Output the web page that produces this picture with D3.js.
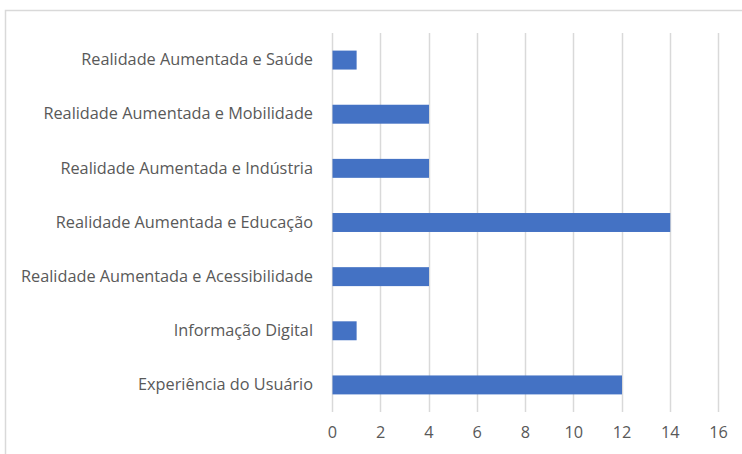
<!DOCTYPE html>
<html><head><meta charset="utf-8">
<script src="https://cdn.jsdelivr.net/npm/d3@7"></script>
<style>body{margin:0;background:#fff}svg{display:block}</style>
</head><body>
<svg id="c" width="742" height="454"></svg>
<script>
const categories = [
  "Realidade Aumentada e Saúde",
  "Realidade Aumentada e Mobilidade",
  "Realidade Aumentada e Indústria",
  "Realidade Aumentada e Educação",
  "Realidade Aumentada e Acessibilidade",
  "Informação Digital",
  "Experiência do Usuário"
];
const values = [1, 4, 4, 14, 4, 1, 12];
const xTicks = [0, 2, 4, 6, 8, 10, 12, 14, 16];

const svg = d3.select("#c");
const font = "'Open Sans', sans-serif";
const txt = "#595959";

svg.append("rect").attr("x", 5.5).attr("y", 10.5).attr("width", 800).attr("height", 500)
  .attr("fill", "#fff").attr("stroke", "#d9d9d9").attr("stroke-width", 1.5);

const x = d3.scaleLinear().domain([0, 16]).range([332, 718]);
const y = d3.scaleBand().domain(categories).range([33, 412]).paddingInner(0.65).paddingOuter(0.325);

// gridlines
svg.append("g").selectAll("line").data(xTicks).join("line")
  .attr("x1", d => Math.round(x(d)) + 0.5).attr("x2", d => Math.round(x(d)) + 0.5)
  .attr("y1", 33).attr("y2", 412)
  .attr("stroke", "#d9d9d9").attr("stroke-width", 1.5);

// bars
svg.append("g").selectAll("rect").data(values).join("rect")
  .attr("x", x(0) + 0.5).attr("y", (d, i) => y(categories[i]))
  .attr("width", d => x(d) - x(0)).attr("height", y.bandwidth())
  .attr("fill", "#4472C4");

// x axis labels
const xAxis = d3.axisBottom(x).tickValues(xTicks).tickSize(0).tickPadding(0);
const gx = svg.append("g").attr("transform", "translate(0,426)").call(xAxis);
gx.select(".domain").remove();
gx.selectAll("text").attr("font-family", font).attr("font-size", 16.3).attr("fill", txt).attr("dy", "0.71em");

// y axis labels
const yAxis = d3.axisLeft(y).tickSize(0).tickPadding(19);
const gy = svg.append("g").attr("transform", `translate(${x(0)},0)`).call(yAxis);
gy.select(".domain").remove();
gy.selectAll("text").attr("font-family", font).attr("font-size", 16.3).attr("fill", txt);
</script>
</body></html>
